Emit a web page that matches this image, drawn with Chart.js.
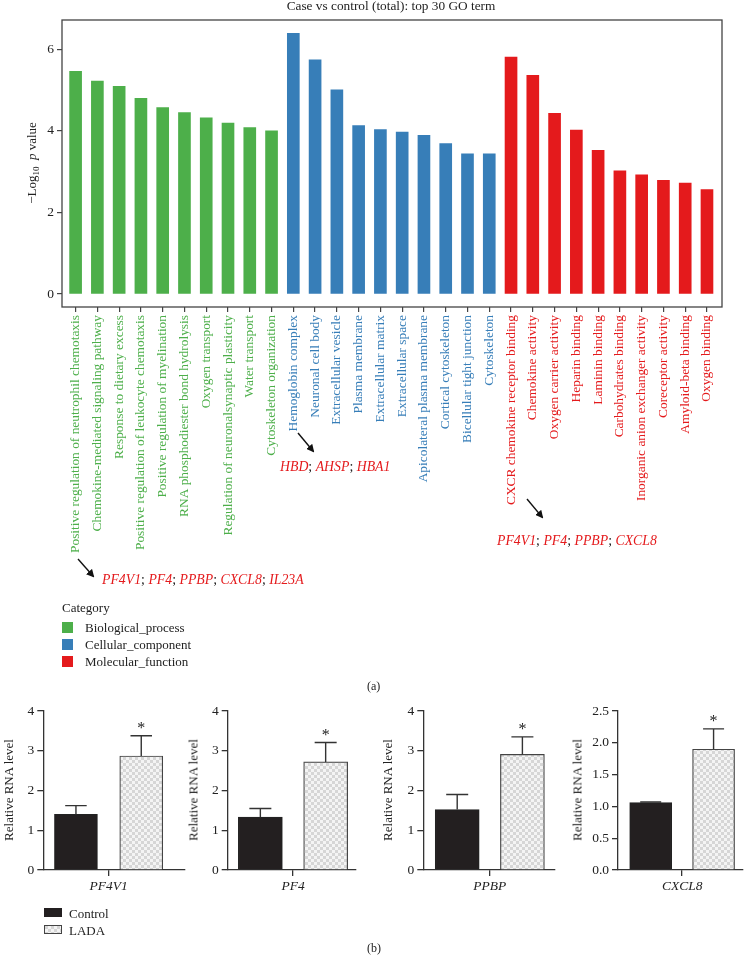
<!DOCTYPE html>
<html lang="en">
<head>
<meta charset="UTF-8">
<title>Case vs control (total): top 30 GO term</title>
<script src="https://cdn.jsdelivr.net/npm/chart.js"></script>
<style>
  body { margin: 0; background: #fff; font-family: 'Liberation Serif', 'DejaVu Serif', serif; color: #222; }
  #fig { position: relative; width: 747px; height: 974px; overflow: hidden; background: #fff; }
  #fig canvas { position: absolute; }
  .txt { position: absolute; white-space: nowrap; line-height: 1; }
  .g { color: #e41a1c; font-style: italic; }
  .rot { transform: translate(-50%, -50%) rotate(-90deg); }
  .sw { position: absolute; width: 11px; height: 11px; }
  #arrows { position: absolute; left: 0; top: 0; }
</style>
</head>
<body>
<div id="fig">
  <canvas id="goChart" width="747" height="570" style="left:0;top:0"></canvas>

  <div class="txt" style="left:391px;top:6px;font-size:13.3px;transform:translate(-50%,-50%)">Case vs control (total): top 30 GO term</div>
  <div class="txt rot" style="left:33px;top:163px;font-size:13px">&minus;Log<sub style="font-size:9px">10</sub>&nbsp; <i>p</i> value</div>

  <svg id="arrows" width="747" height="974">
    <defs>
      <marker id="ah" markerWidth="8" markerHeight="8" refX="6" refY="4" orient="auto" markerUnits="userSpaceOnUse">
        <path d="M0,0 L8,4 L0,8 z" fill="#111"/>
      </marker>
    </defs>
    <line x1="298" y1="433" x2="313" y2="451" stroke="#111" stroke-width="1.4" marker-end="url(#ah)"/>
    <line x1="527" y1="499" x2="542" y2="517" stroke="#111" stroke-width="1.4" marker-end="url(#ah)"/>
    <line x1="78" y1="559" x2="93" y2="576" stroke="#111" stroke-width="1.4" marker-end="url(#ah)"/>
  </svg>

  <div class="txt" style="left:280px;top:460px;font-size:13.8px"><span class="g">HBD</span>; <span class="g">AHSP</span>; <span class="g">HBA1</span></div>
  <div class="txt" style="left:497px;top:534px;font-size:13.8px"><span class="g">PF4V1</span>; <span class="g">PF4</span>; <span class="g">PPBP</span>; <span class="g">CXCL8</span></div>
  <div class="txt" style="left:102px;top:573px;font-size:13.8px"><span class="g">PF4V1</span>; <span class="g">PF4</span>; <span class="g">PPBP</span>; <span class="g">CXCL8</span>; <span class="g">IL23A</span></div>

  <div class="txt" style="left:62px;top:601px;font-size:13px">Category</div>
  <div class="sw" style="left:62px;top:622px;background:#4daf4a"></div>
  <div class="txt" style="left:85px;top:621px;font-size:13px">Biological_process</div>
  <div class="sw" style="left:62px;top:639px;background:#377eb8"></div>
  <div class="txt" style="left:85px;top:638px;font-size:13px">Cellular_component</div>
  <div class="sw" style="left:62px;top:656px;background:#e41a1c"></div>
  <div class="txt" style="left:85px;top:655px;font-size:13px">Molecular_function</div>

  <div class="txt" style="left:367px;top:680px;font-size:12px">(a)</div>

  <canvas id="p0" width="195" height="200" style="left:0;top:700px"></canvas>
  <canvas id="p1" width="180" height="200" style="left:185px;top:700px"></canvas>
  <canvas id="p2" width="190" height="200" style="left:375px;top:700px"></canvas>
  <canvas id="p3" width="182" height="200" style="left:565px;top:700px"></canvas>

  <div class="txt rot" style="left:8px;top:790px;font-size:13px">Relative RNA level</div>
  <div class="txt rot" style="left:193px;top:790px;font-size:13px">Relative RNA level</div>
  <div class="txt rot" style="left:387px;top:790px;font-size:13px">Relative RNA level</div>
  <div class="txt rot" style="left:577px;top:790px;font-size:13px">Relative RNA level</div>

  <div class="sw" style="left:44px;top:908px;width:18px;height:9px;background:#231f20"></div>
  <div class="txt" style="left:69px;top:907px;font-size:13px">Control</div>
  <div id="ladaSw" class="sw" style="left:44px;top:925px;width:16px;height:7px;border:1px solid #444"></div>
  <div class="txt" style="left:69px;top:924px;font-size:13px">LADA</div>

  <div class="txt" style="left:367px;top:942px;font-size:12px">(b)</div>
</div>

<script>
  // GO terms (top 30)
  const terms = [
    "Positive regulation of neutrophil chemotaxis",
    "Chemokine-mediated signaling pathway",
    "Response to dietary excess",
    "Positive regulation of leukocyte chemotaxis",
    "Positive regulation of myelination",
    "RNA phosphodiester bond hydrolysis",
    "Oxygen transport",
    "Regulation of neuronalsynaptic plasticity",
    "Water transport",
    "Cytoskeleton organization",
    "Hemoglobin complex",
    "Neuronal cell body",
    "Extracellular vesicle",
    "Plasma membrane",
    "Extracellular matrix",
    "Extracellular space",
    "Apicolateral plasma membrane",
    "Cortical cytoskeleton",
    "Bicellular tight junction",
    "Cytoskeleton",
    "CXCR chemokine receptor binding",
    "Chemokine activity",
    "Oxygen carrier activity",
    "Heparin binding",
    "Laminin binding",
    "Carbohydrates binding",
    "Inorganic anion exchanger activity",
    "Coreceptor activity",
    "Amyloid-beta binding",
    "Oxygen binding"
  ];
  const logP = [
    5.46, 5.22, 5.09, 4.80, 4.57, 4.45, 4.32, 4.19, 4.08, 4.00,
    6.39, 5.74, 5.01, 4.13, 4.03, 3.97, 3.89, 3.69, 3.44, 3.44,
    5.81, 5.36, 4.43, 4.02, 3.52, 3.02, 2.92, 2.79, 2.72, 2.56
  ];
  const category = [
    'BP','BP','BP','BP','BP','BP','BP','BP','BP','BP',
    'CC','CC','CC','CC','CC','CC','CC','CC','CC','CC',
    'MF','MF','MF','MF','MF','MF','MF','MF','MF','MF'
  ];
  const yTicksGO = [0, 2, 4, 6];

  // qPCR panels
  const genes = ['PF4V1', 'PF4', 'PPBP', 'CXCL8'];
  const controlMean = [1.40, 1.33, 1.52, 1.06];
  const controlErr  = [0.22, 0.22, 0.38, 0.01];
  const ladaMean    = [2.87, 2.72, 2.91, 1.90];
  const ladaErr     = [0.51, 0.49, 0.44, 0.32];
  const yMax        = [4, 4, 4, 2.5];
  const yStep       = [1, 1, 1, 0.5];

  const catColor = { BP: '#4daf4a', CC: '#377eb8', MF: '#e41a1c' };
  const FONT = "'Liberation Serif', 'DejaVu Serif', serif";

  // frame around top plot
  const frame = {
    id: 'frame',
    afterDraw(chart) {
      const a = chart.chartArea, c = chart.ctx;
      c.save();
      c.strokeStyle = '#444';
      c.lineWidth = 1.3;
      c.strokeRect(a.left, a.top, a.right - a.left, a.bottom - a.top);
      c.restore();
    }
  };

  new Chart(document.getElementById('goChart'), {
    type: 'bar',
    data: {
      datasets: [{
        data: logP.map((v, i) => ({ x: i, y: v })),
        backgroundColor: category.map(c => catColor[c]),
        barThickness: 12
      }]
    },
    options: {
      responsive: false,
      animation: false,
      devicePixelRatio: 1,
      layout: { padding: { top: 20, right: 25, left: 0, bottom: 0 } },
      plugins: { legend: { display: false }, tooltip: { enabled: false } },
      scales: {
        x: {
          type: 'linear',
          offset: false,
          min: -0.625,
          max: 29.69,
          afterBuildTicks(s) { s.ticks = terms.map((t, i) => ({ value: i })); },
          afterFit(s) { s.height = 263; },
          ticks: {
            autoSkip: false,
            minRotation: 90,
            maxRotation: 90,
            padding: 3,
            font: { family: FONT, size: 13.4 },
            color: ctx => catColor[category[ctx.index]],
            callback: (v, i) => terms[i]
          },
          grid: { offset: false, drawOnChartArea: false, drawTicks: true, tickLength: 5, color: '#444', lineWidth: 1.2 },
          border: { display: false }
        },
        y: {
          min: -0.32,
          max: 6.72,
          afterBuildTicks(s) { s.ticks = yTicksGO.map(v => ({ value: v })); },
          afterFit(s) { s.width = 62; },
          ticks: { padding: 3, font: { family: FONT, size: 13.5 }, color: '#222' },
          grid: { drawOnChartArea: false, drawTicks: true, tickLength: 5, color: '#444', lineWidth: 1.2 },
          border: { display: false }
        }
      }
    },
    plugins: [frame]
  });

  // checker fill for LADA
  function checker() {
    const p = document.createElement('canvas');
    p.width = 6; p.height = 6;
    const c = p.getContext('2d');
    c.fillStyle = '#f4f4f4'; c.fillRect(0, 0, 6, 6);
    c.fillStyle = '#d6d6d6';
    c.fillRect(0, 0, 3, 3); c.fillRect(3, 3, 3, 3);
    return p;
  }
  const patCanvas = checker();
  document.getElementById('ladaSw').style.background = 'url(' + patCanvas.toDataURL() + ')';

  const errorBars = {
    id: 'errorBars',
    afterDatasetsDraw(chart) {
      const c = chart.ctx, ys = chart.scales.y;
      const ds = chart.data.datasets[0];
      const meta = chart.getDatasetMeta(0);
      c.save();
      c.strokeStyle = '#333';
      c.lineWidth = 1.4;
      meta.data.forEach((bar, i) => {
        const top = ys.getPixelForValue(ds.data[i].y + ds.errs[i]);
        const half = bar.width / 4;
        c.beginPath();
        c.moveTo(bar.x, bar.y);
        c.lineTo(bar.x, top);
        c.moveTo(bar.x - half, top);
        c.lineTo(bar.x + half, top);
        c.stroke();
        if (ds.stars[i]) {
          c.fillStyle = '#222';
          c.font = '16px ' + FONT;
          c.textAlign = 'center';
          c.textBaseline = 'middle';
          c.fillText('*', bar.x, top - 7);
        }
      });
      c.restore();
    }
  };

  const panelAxis = [
    { yw: 43.3, right: 10,  xmin: -0.5,  xmax: 1.67, bar: 43 },
    { yw: 42.7, right: 9.3, xmin: -0.5,  xmax: 1.46, bar: 44 },
    { yw: 48.3, right: 10,  xmin: -0.52, xmax: 1.5,  bar: 44 },
    { yw: 53,   right: 4.5, xmin: -0.52, xmax: 1.46, bar: 42 }
  ];

  genes.forEach((gene, k) => {
    const cv = document.getElementById('p' + k);
    const pat = cv.getContext('2d').createPattern(patCanvas, 'repeat');
    const ax = panelAxis[k];
    new Chart(cv, {
      type: 'bar',
      data: {
        datasets: [{
          data: [{ x: 0, y: controlMean[k] }, { x: 1, y: ladaMean[k] }],
          errs: [controlErr[k], ladaErr[k]],
          stars: [false, true],
          backgroundColor: ['#231f20', pat],
          borderColor: ['#222', '#444'],
          borderWidth: 1.2,
          barThickness: ax.bar
        }]
      },
      options: {
        responsive: false,
        animation: false,
        devicePixelRatio: 1,
        layout: { padding: { top: 11, right: ax.right, left: 0, bottom: 0 } },
        plugins: { legend: { display: false }, tooltip: { enabled: false } },
        scales: {
          x: {
            type: 'linear',
            offset: false,
            min: ax.xmin,
            max: ax.xmax,
            afterBuildTicks(s) { s.ticks = [{ value: 0.5 }]; },
            afterFit(s) { s.height = 30; },
            ticks: { padding: 2, font: { family: FONT, size: 13.5, style: 'italic' }, color: '#222', callback: () => gene },
            grid: { offset: false, drawOnChartArea: false, drawTicks: true, tickLength: 6, color: '#333', lineWidth: 1.3 },
            border: { display: true, color: '#333', width: 1.3 }
          },
          y: {
            min: 0,
            max: yMax[k],
            afterFit(s) { s.width = ax.yw; },
            ticks: {
              stepSize: yStep[k],
              padding: 3,
              font: { family: FONT, size: 13.5 },
              color: '#222',
              callback: v => yStep[k] < 1 ? v.toFixed(1) : v
            },
            grid: { drawOnChartArea: false, drawTicks: true, tickLength: 6, color: '#333', lineWidth: 1.3 },
            border: { display: true, color: '#333', width: 1.3 }
          }
        }
      },
      plugins: [errorBars]
    });
  });
</script>
</body>
</html>
